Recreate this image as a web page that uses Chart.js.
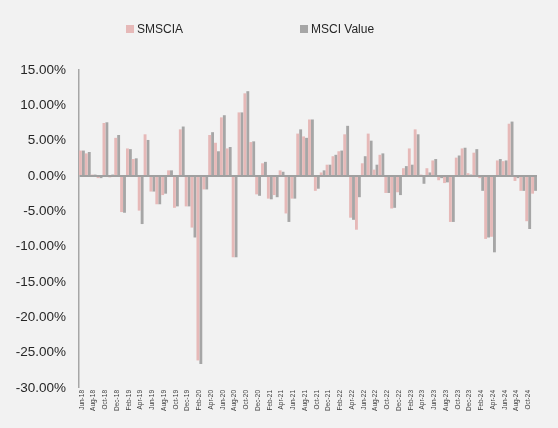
<!DOCTYPE html>
<html>
<head>
<meta charset="utf-8">
<script src="https://cdn.jsdelivr.net/npm/chart.js@4/dist/chart.umd.min.js"></script>
<style>
  html, body { margin: 0; padding: 0; background: #F2F2F2; }
  #wrap { width: 558px; height: 428px; position: relative; }
</style>
</head>
<body>
<div id="wrap"><canvas id="c"></canvas></div>
<script>
const months = [
  "Jun-18","Jul-18","Aug-18","Sep-18","Oct-18","Nov-18","Dec-18",
  "Jan-19","Feb-19","Mar-19","Apr-19","May-19","Jun-19","Jul-19","Aug-19","Sep-19","Oct-19","Nov-19","Dec-19",
  "Jan-20","Feb-20","Mar-20","Apr-20","May-20","Jun-20","Jul-20","Aug-20","Sep-20","Oct-20","Nov-20","Dec-20",
  "Jan-21","Feb-21","Mar-21","Apr-21","May-21","Jun-21","Jul-21","Aug-21","Sep-21","Oct-21","Nov-21","Dec-21",
  "Jan-22","Feb-22","Mar-22","Apr-22","May-22","Jun-22","Jul-22","Aug-22","Sep-22","Oct-22","Nov-22","Dec-22",
  "Jan-23","Feb-23","Mar-23","Apr-23","May-23","Jun-23","Jul-23","Aug-23","Sep-23","Oct-23","Nov-23","Dec-23",
  "Jan-24","Feb-24","Mar-24","Apr-24","May-24","Jun-24","Jul-24","Aug-24","Sep-24","Oct-24","Nov-24"
];
const smscia = [
  3.6, 3.2, 0.2, -0.3, 7.5, -0.2, 5.4, -5.1, 3.9, 2.4,
  -4.9, 5.9, -2.2, -4.0, -2.7, 0.8, -4.5, 6.6, -4.3, -7.3,
  -26.1, -1.9, 5.8, 4.7, 8.3, 3.9, -11.5, 9.0, 11.7, 4.8,
  -2.6, 1.8, -3.2, -2.7, 0.8, -5.3, -3.2, 6.0, 5.6, 8.0,
  -2.1, 0.5, 1.6, 2.8, 3.5, 5.9, -5.9, -7.6, 1.8, 6.0,
  0.9, 3.0, -2.4, -4.6, -2.3, 1.1, 3.9, 6.6, 0.2, 1.1,
  2.2, -0.6, -1.0, -6.5, 2.6, 3.9, 0.4, 3.3, -0.3, -8.9,
  -8.6, 2.2, 2.1, 7.4, -0.7, -2.1, -6.4, -2.5
];
const msciValue = [
  3.6, 3.4, 0.2, -0.3, 7.6, 0.2, 5.8, -5.2, 3.8, 2.5,
  -6.8, 5.1, -2.2, -4.0, -2.5, 0.8, -4.3, 7.0, -4.3, -8.7,
  -26.6, -1.9, 6.2, 3.5, 8.6, 4.1, -11.5, 9.0, 12.0, 4.9,
  -2.8, 2.0, -3.3, -3.0, 0.6, -6.5, -3.2, 6.6, 5.4, 8.0,
  -1.8, 0.8, 1.6, 3.0, 3.6, 7.1, -6.2, -3.0, 2.8, 5.0,
  1.6, 3.2, -2.4, -4.5, -2.7, 1.4, 1.6, 5.9, -1.1, 0.5,
  2.4, -0.3, -0.9, -6.5, 2.9, 4.0, 0.2, 3.8, -2.1, -8.7,
  -10.8, 2.4, 2.2, 7.7, -0.3, -2.1, -7.5, -2.1
];
const seriesNames = ["SMSCIA", "MSCI Value"];
const yMin = -30, yMax = 15, yStep = 5;

const legendPositions = [126, 300];
const customLegend = {
  id: 'customLegend',
  afterDraw(chart) {
    const ctx = chart.ctx;
    ctx.save();
    ctx.font = '12px "Liberation Sans", Arial, sans-serif';
    ctx.textBaseline = 'middle';
    ctx.textAlign = 'left';
    chart.data.datasets.forEach((ds, i) => {
      const x = legendPositions[i];
      const y = 29;
      ctx.fillStyle = ds.backgroundColor;
      ctx.fillRect(x, y - 4, 8, 8);
      ctx.fillStyle = '#262626';
      ctx.fillText(ds.label, x + 11, y + 0.5);
    });
    ctx.restore();
  }
};

new Chart(document.getElementById('c'), {
  type: 'bar',
  data: {
    labels: months,
    datasets: [
      { label: seriesNames[0], data: smscia, backgroundColor: '#E6B9B8',
        categoryPercentage: 1.0, barPercentage: 0.98 },
      { label: seriesNames[1], data: msciValue, backgroundColor: '#A6A6A6',
        categoryPercentage: 1.0, barPercentage: 0.98 }
    ]
  },
  options: {
    responsive: true,
    maintainAspectRatio: false,
    animation: false,
    devicePixelRatio: 1,
    layout: { padding: { left: 0, right: 21, top: 70, bottom: 0 } },
    plugins: {
      legend: { display: false },
      tooltip: { enabled: false }
    },
    scales: {
      x: {
        grid: { display: false, drawTicks: false },
        border: { display: false },
        ticks: {
          autoSkip: false,
          minRotation: 90,
          maxRotation: 90,
          padding: 2,
          color: '#404040',
          font: { family: '"Liberation Sans", Arial, sans-serif', size: 6.5 },
          callback: function(v, i) { return i % 2 === 0 ? months[i] : ''; }
        },
        afterFit: function(s) { s.height = 40; }
      },
      y: {
        min: yMin, max: yMax,
        grid: {
          drawTicks: false,
          color: (c) => (c.tick && c.tick.value === 0) ? '#A0A0A0' : 'rgba(0,0,0,0)',
          lineWidth: (c) => (c.tick && c.tick.value === 0) ? 2 : 0
        },
        border: { display: true, color: '#A6A6A6', width: 1.5 },
        ticks: {
          stepSize: yStep,
          padding: 13,
          color: '#262626',
          font: { family: '"Liberation Sans", Arial, sans-serif', size: 13.5 },
          callback: (v) => v.toFixed(2) + '%'
        },
        afterFit: function(s) { s.width = 79; }
      }
    }
  },
  plugins: [customLegend]
});
</script>
</body>
</html>
